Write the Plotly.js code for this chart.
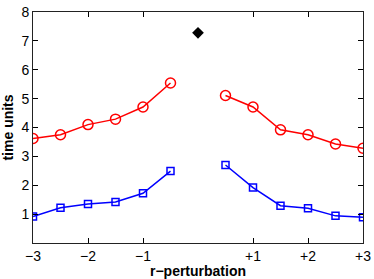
<!DOCTYPE html>
<html>
<head>
<meta charset="utf-8">
<script src="https://cdn.plot.ly/plotly-3.0.1.min.js"></script>
<style>
  html, body { margin: 0; padding: 0; background: #fff; }
  #chart { width: 374px; height: 279px; }
</style>
</head>
<body>
<div id="chart"></div>
<script>
// r-perturbation positions, left and right of the unperturbed point
const xLeft = [-3, -2.5, -2, -1.5, -1, -0.5];
const xRight = [0.5, 1, 1.5, 2, 2.5, 3];

// time units
const redLeft = [3.62, 3.75, 4.1, 4.29, 4.71, 5.54];
const redRight = [5.11, 4.71, 3.92, 3.75, 3.43, 3.28];
const blueLeft = [0.92, 1.22, 1.35, 1.42, 1.72, 2.49];
const blueRight = [2.7, 1.92, 1.29, 1.2, 0.94, 0.89];

const centerX = [0];
const centerY = [7.28];

const xTicks = [-3, -2, -1, 1, 2, 3];
const xTickText = ['\u22123', '\u22122', '\u22121', '+1', '+2', '+3'];
const yTicks = [1, 2, 3, 4, 5, 6, 7, 8];

const red = '#ff0000';
const blue = '#0000ff';

function series(x, y, color, symbol, size) {
  return {
    x, y,
    type: 'scatter',
    mode: 'lines+markers',
    line: { color, width: 1.5 },
    marker: { symbol, size, color, line: { color, width: 1.5 } },
    hoverinfo: 'x+y'
  };
}

const traces = [
  series(xLeft, redLeft, red, 'circle-open', 10),
  series(xRight, redRight, red, 'circle-open', 10),
  series(xLeft, blueLeft, blue, 'square-open', 7),
  series(xRight, blueRight, blue, 'square-open', 7),
  {
    x: centerX, y: centerY,
    type: 'scatter', mode: 'markers',
    marker: { symbol: 'diamond', size: 9, color: '#000' }
  }
];

const axisFont = { family: 'Liberation Sans, Arial, sans-serif', size: 14, color: '#000' };

const layout = {
  width: 374,
  height: 279,
  showlegend: false,
  paper_bgcolor: '#fff',
  plot_bgcolor: '#fff',
  margin: { l: 33, r: 11, t: 12, b: 36 },
  font: axisFont,
  xaxis: {
    range: [-3, 3],
    tickvals: xTicks,
    ticktext: xTickText,
    ticks: 'inside',
    ticklen: 5,
    tickcolor: '#000',
    showline: true,
    linecolor: '#222',
    linewidth: 1,
    mirror: 'ticks',
    showgrid: false,
    zeroline: false,
    tickfont: axisFont,
    title: { text: '<b>r\u2212perturbation</b>', font: axisFont, standoff: 1 }
  },
  yaxis: {
    range: [0, 8],
    tickvals: yTicks,
    ticks: 'inside',
    ticklen: 5,
    tickcolor: '#000',
    showline: true,
    linecolor: '#222',
    linewidth: 1,
    mirror: 'ticks',
    showgrid: false,
    zeroline: false,
    tickfont: axisFont,
    title: { text: '<b>time units</b>', font: axisFont, standoff: 4 }
  }
};

Plotly.newPlot('chart', traces, layout, { displayModeBar: false, responsive: false });
</script>
</body>
</html>
